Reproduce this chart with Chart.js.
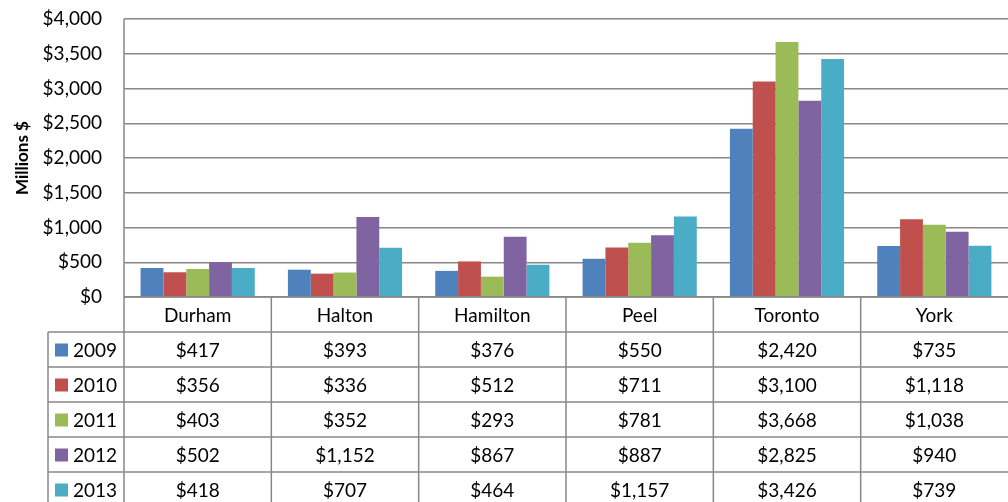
<!DOCTYPE html>
<html>
<head>
<meta charset="utf-8">
<script src="https://cdn.jsdelivr.net/npm/chart.js@4"></script>
<style>
  html, body { margin: 0; padding: 0; background: #fff; }
  #wrap { width: 1008px; height: 502px; }
</style>
</head>
<body>
<div id="wrap"><canvas id="chart" width="1008" height="502"></canvas></div>
<script>
const regions = ["Durham", "Halton", "Hamilton", "Peel", "Toronto", "York"];
const years = ["2009", "2010", "2011", "2012", "2013"];
const colors = ["#4F81BD", "#C0504D", "#9BBB59", "#8064A2", "#4BACC6"];
const v2009 = [417, 393, 376, 550, 2420, 735];
const v2010 = [356, 336, 512, 711, 3100, 1118];
const v2011 = [403, 352, 293, 781, 3668, 1038];
const v2012 = [502, 1152, 867, 887, 2825, 940];
const v2013 = [418, 707, 464, 1157, 3426, 739];
const series = [v2009, v2010, v2011, v2012, v2013];

const FONT = "Lato";
const GRID = "#878787";
const fmt = new Intl.NumberFormat("en-US");
const money = (v) => "$" + fmt.format(v);

// data table under the plot, drawn from the same arrays
const dataTable = {
  id: "dataTable",
  afterDraw(chart) {
    const ctx = chart.ctx;
    const x = chart.scales.x;
    const area = chart.chartArea;
    const rowH = 35;
    const top = area.bottom;
    const legendLeft = 48;
    const n = regions.length;
    const step = (area.right - area.left) / n;
    const bottom = chart.height;

    ctx.save();
    ctx.strokeStyle = GRID;
    ctx.lineWidth = 1.5;

    // axis line down through the table
    ctx.beginPath();
    ctx.moveTo(area.left, area.top);
    ctx.lineTo(area.left, bottom);
    ctx.stroke();

    // horizontal rules
    for (let r = 0; r <= years.length; r++) {
      const y = top + rowH * (r + 1);
      ctx.beginPath();
      ctx.moveTo(legendLeft, y);
      ctx.lineTo(area.right, y);
      ctx.stroke();
    }
    ctx.beginPath();
    ctx.moveTo(area.left, top);
    ctx.lineTo(area.right, top);
    ctx.stroke();

    // left border of legend column
    ctx.beginPath();
    ctx.moveTo(legendLeft, top + rowH);
    ctx.lineTo(legendLeft, bottom);
    ctx.stroke();

    // column separators
    for (let i = 1; i < n; i++) {
      const cx = area.left + step * i;
      ctx.beginPath();
      ctx.moveTo(cx, top);
      ctx.lineTo(cx, bottom);
      ctx.stroke();
    }

    ctx.fillStyle = "#000";
    ctx.font = "19px " + FONT;
    ctx.textAlign = "center";
    ctx.textBaseline = "middle";
    regions.forEach((name, i) => {
      ctx.fillText(name, x.getPixelForValue(i), top + rowH / 2 + 1);
    });

    years.forEach((yr, r) => {
      const cy = top + rowH * (r + 1) + rowH / 2 + 1;
      ctx.fillStyle = colors[r];
      ctx.fillRect(55, cy - 7, 13, 13);
      ctx.fillStyle = "#000";
      ctx.textAlign = "left";
      ctx.fillText(yr, 73, cy);
      ctx.textAlign = "center";
      series[r].forEach((v, i) => {
        ctx.fillText(money(v), x.getPixelForValue(i), cy);
      });
    });
    ctx.restore();
  },
};

new Chart(document.getElementById("chart"), {
  type: "bar",
  data: {
    labels: regions,
    datasets: years.map((yr, i) => ({
      label: yr,
      data: series[i],
      backgroundColor: colors[i],
      borderWidth: 0,
      categoryPercentage: 0.775,
      barPercentage: 1,
    })),
  },
  options: {
    responsive: false,
    animation: false,
    layout: { padding: { top: 19, bottom: 205, left: 0, right: 0 } },
    plugins: {
      legend: { display: false },
      tooltip: { enabled: false },
    },
    scales: {
      x: {
        display: false,
      },
      y: {
        min: 0,
        max: 4000,
        afterFit(scale) {
          scale.width = 124;
          scale.paddingTop = 0;
          scale.paddingBottom = 0;
        },
        border: { display: false },
        grid: { color: GRID, lineWidth: 1.5, drawTicks: false },
        ticks: {
          stepSize: 500,
          padding: 22,
          color: "#000",
          font: { family: FONT, size: 19 },
          callback: (v) => money(v),
        },
        title: {
          display: true,
          text: "Millions $",
          color: "#000",
          font: { family: FONT, size: 17, weight: "bold" },
          padding: { top: 12, bottom: 0 },
        },
      },
    },
  },
  plugins: [dataTable],
});
</script>
</body>
</html>
